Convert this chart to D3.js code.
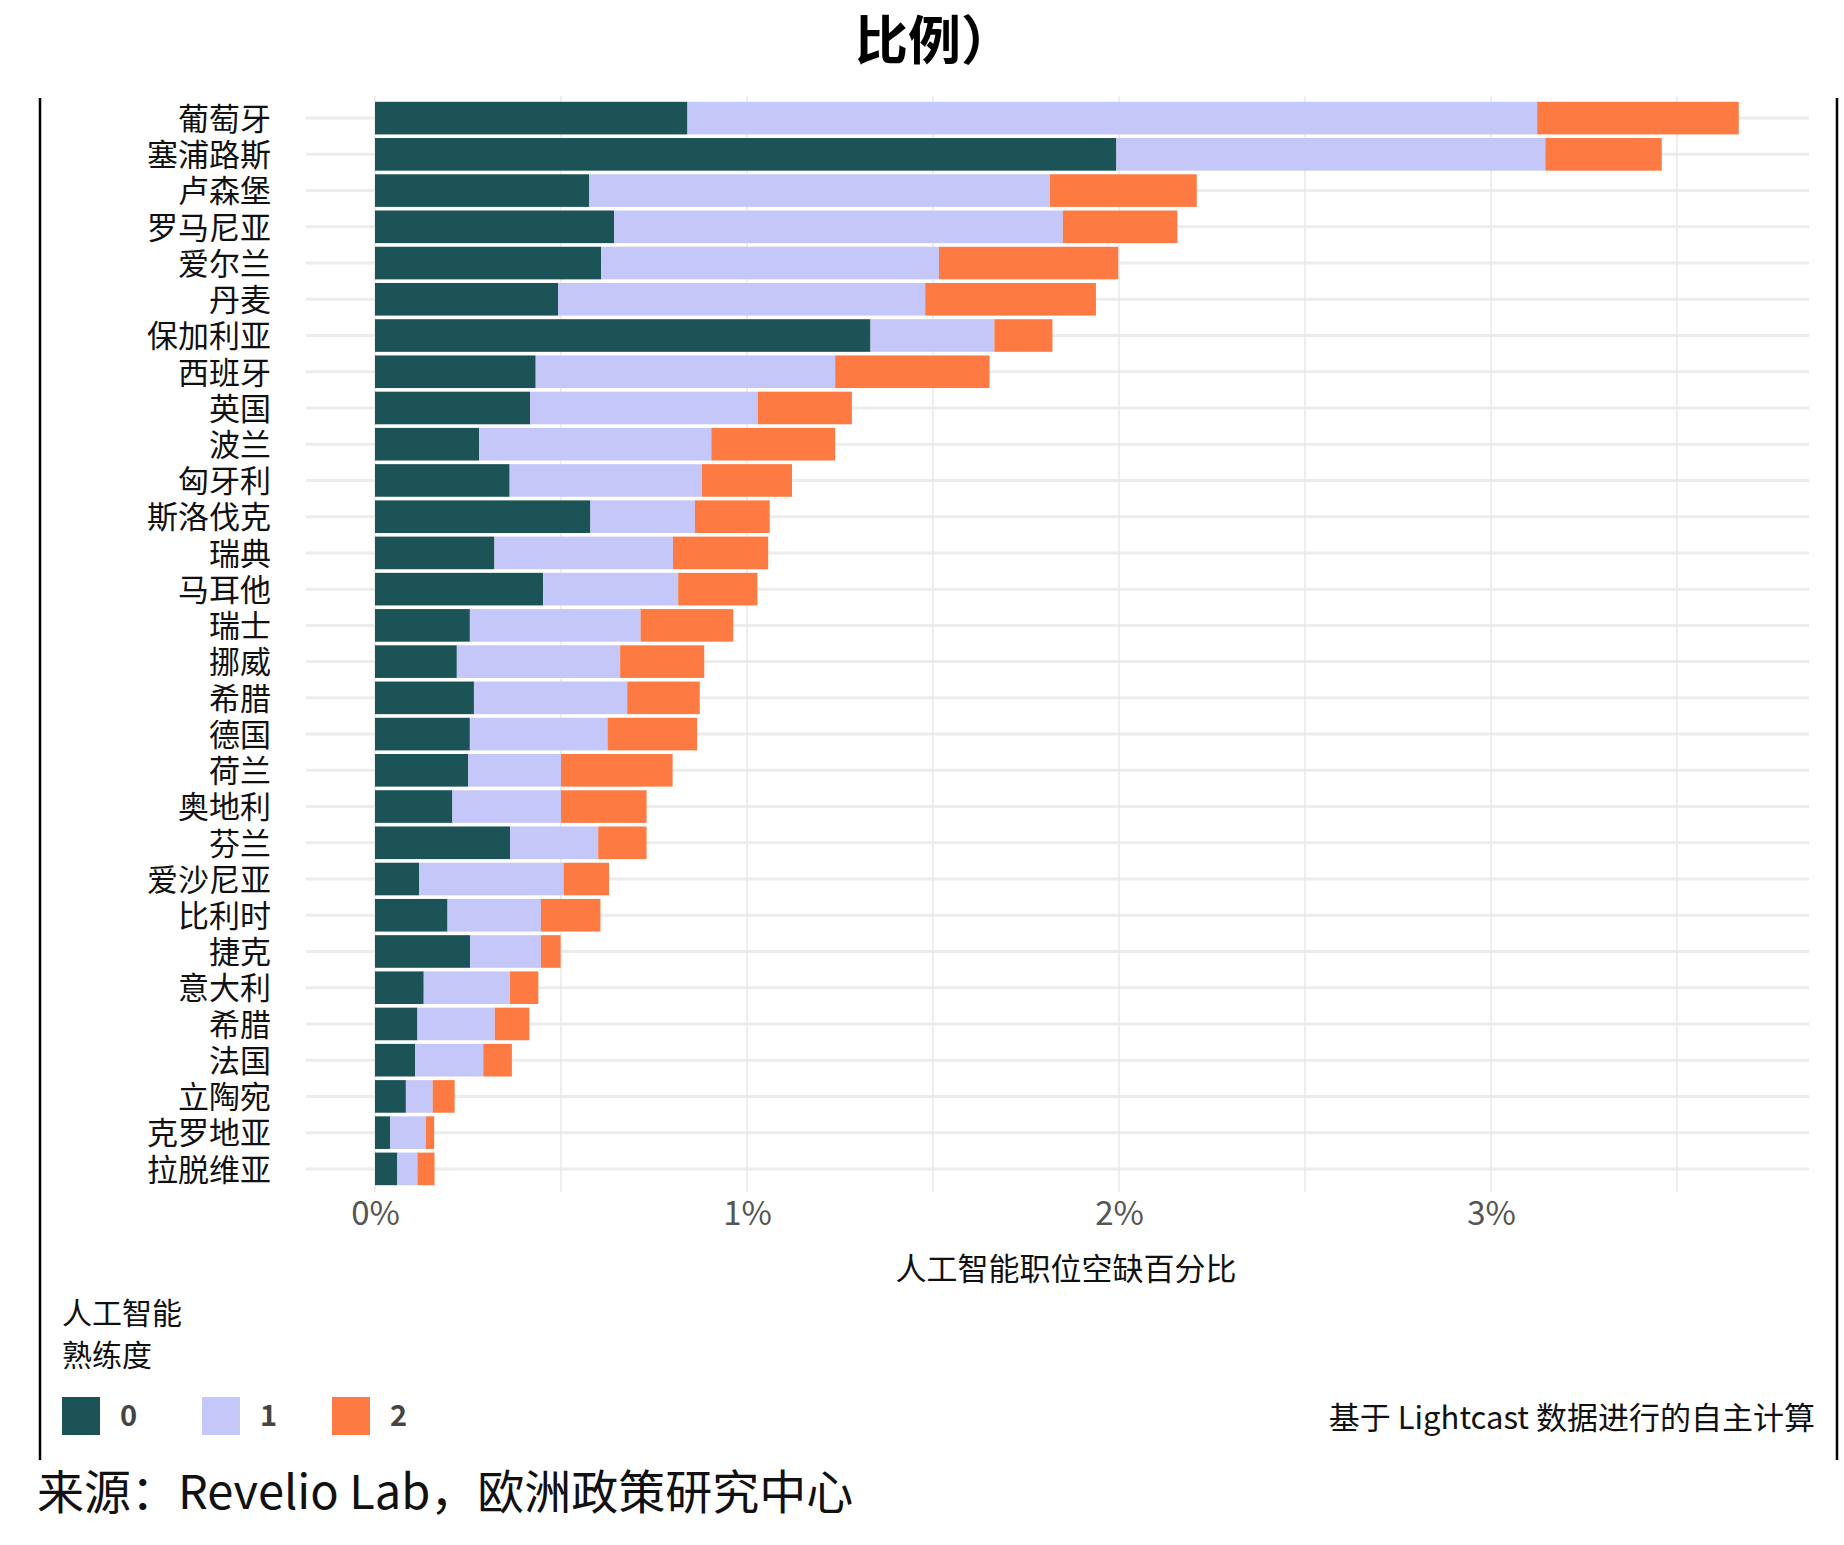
<!DOCTYPE html>
<html>
<head>
<meta charset="utf-8">
<script src="https://cdn.jsdelivr.net/npm/d3@7/dist/d3.min.js"></script>
<style>
  body { margin: 0; background: #fff; }
  svg text { font-family: 'Noto Sans CJK SC', sans-serif; }
</style>
</head>
<body>
<div id="chart"></div>
<script>
// values, in percent of job postings
const countries = ['葡萄牙', '塞浦路斯', '卢森堡', '罗马尼亚', '爱尔兰', '丹麦', '保加利亚', '西班牙',
  '英国', '波兰', '匈牙利', '斯洛伐克', '瑞典', '马耳他', '瑞士', '挪威', '希腊', '德国', '荷兰',
  '奥地利', '芬兰', '爱沙尼亚', '比利时', '捷克', '意大利', '希腊', '法国', '立陶宛', '克罗地亚', '拉脱维亚']
const level0 = [0.840, 1.993, 0.576, 0.643, 0.608, 0.492, 1.332, 0.432, 0.417, 0.280, 0.362, 0.579,
  0.321, 0.452, 0.255, 0.220, 0.266, 0.255, 0.250, 0.208, 0.363, 0.119, 0.195, 0.256, 0.131, 0.114,
  0.108, 0.083, 0.041, 0.060]
const level1 = [2.284, 1.153, 1.238, 1.206, 0.908, 0.987, 0.333, 0.805, 0.612, 0.624, 0.517, 0.281,
  0.480, 0.363, 0.459, 0.439, 0.412, 0.370, 0.250, 0.292, 0.237, 0.388, 0.251, 0.190, 0.232, 0.208,
  0.183, 0.072, 0.096, 0.054]
const level2 = [0.542, 0.313, 0.395, 0.308, 0.482, 0.459, 0.156, 0.415, 0.253, 0.333, 0.242, 0.201,
  0.256, 0.213, 0.249, 0.226, 0.195, 0.241, 0.300, 0.230, 0.130, 0.122, 0.160, 0.053, 0.076, 0.093,
  0.077, 0.059, 0.022, 0.046]
const levels = ['0', '1', '2']
const colors = ['#1b5356', '#c4c7f8', '#fd7b42']
const xTicks = [0, 1, 2, 3]
const xMinorTicks = [0.5, 1.5, 2.5, 3.5]

const width = 1844
const height = 1545
const panel = { left: 306, right: 1809, top: 96, bottom: 1192 }

const svg = d3
  .select('#chart')
  .append('svg')
  .attr('width', width)
  .attr('height', height)

svg.append('rect').attr('width', width).attr('height', height).attr('fill', '#fff')

const rows = countries.map((c, i) => ({ i: i, name: c, l0: level0[i], l1: level1[i], l2: level2[i] }))

const xPositionScale = d3
  .scaleLinear()
  .domain([0, 3])
  .range([375, 375 + 3 * 372])
const yPositionScale = d3
  .scaleBand()
  .domain(rows.map(d => d.i))
  .range([100, 1187])
  .paddingInner(0.1)
  .paddingOuter(0.05)
const colorScale = d3.scaleOrdinal().domain(['l0', 'l1', 'l2']).range(colors)

// grid
const grid = svg.append('g').attr('class', 'grid')
grid
  .selectAll('.h-grid')
  .data(rows)
  .enter()
  .append('line')
  .attr('class', 'h-grid')
  .attr('x1', panel.left)
  .attr('x2', panel.right)
  .attr('y1', d => yPositionScale(d.i) + yPositionScale.bandwidth() / 2)
  .attr('y2', d => yPositionScale(d.i) + yPositionScale.bandwidth() / 2)
  .attr('stroke', '#ececec')
  .attr('stroke-width', 3)
grid
  .selectAll('.v-grid')
  .data(xTicks.concat(xMinorTicks))
  .enter()
  .append('line')
  .attr('class', 'v-grid')
  .attr('x1', d => xPositionScale(d))
  .attr('x2', d => xPositionScale(d))
  .attr('y1', panel.top)
  .attr('y2', panel.bottom)
  .attr('stroke', '#e9e9e9')
  .attr('stroke-width', 1.5)

// stacked bars
const stacked = d3.stack().keys(['l0', 'l1', 'l2'])(rows)
svg
  .append('g')
  .selectAll('g')
  .data(stacked)
  .enter()
  .append('g')
  .attr('fill', d => colorScale(d.key))
  .selectAll('rect')
  .data(d => d)
  .enter()
  .append('rect')
  .attr('x', d => xPositionScale(d[0]))
  .attr('width', d => xPositionScale(d[1]) - xPositionScale(d[0]))
  .attr('y', d => yPositionScale(d.data.i))
  .attr('height', yPositionScale.bandwidth())

// axes
const yAxis = d3
  .axisLeft(yPositionScale)
  .tickSize(0)
  .tickPadding(8)
  .tickFormat(i => countries[i])
svg
  .append('g')
  .attr('class', 'axis y-axis')
  .attr('transform', 'translate(279,0)')
  .call(yAxis)
  .call(g => g.select('.domain').remove())
  .selectAll('text')
  .attr('dy', '0.38em')
  .attr('font-size', 31)
  .attr('fill', '#111')
  .attr('font-family', "'Noto Sans CJK SC', sans-serif")

const xAxis = d3
  .axisBottom(xPositionScale)
  .tickValues(xTicks)
  .tickSize(0)
  .tickPadding(10)
  .tickFormat(d => d + '%')
svg
  .append('g')
  .attr('class', 'axis x-axis')
  .attr('transform', 'translate(0,' + panel.bottom + ')')
  .call(xAxis)
  .call(g => g.select('.domain').remove())
  .selectAll('text')
  .attr('font-size', 33)
  .attr('fill', '#555')
  .attr('font-family', 'Roboto, sans-serif')

svg
  .append('text')
  .attr('x', 1066)
  .attr('y', 1280)
  .attr('text-anchor', 'middle')
  .attr('font-size', 31)
  .attr('fill', '#111')
  .text('人工智能职位空缺百分比')

// title (only the tail of it is in view)
svg
  .append('text')
  .attr('x', 855)
  .attr('y', 60)
  .attr('font-size', 53)
  .attr('font-weight', 'bold')
  .attr('fill', '#000')
  .text('比例）')

// frame lines
svg
  .selectAll('.frame')
  .data([40, 1837])
  .enter()
  .append('line')
  .attr('class', 'frame')
  .attr('x1', d => d)
  .attr('x2', d => d)
  .attr('y1', 98)
  .attr('y2', 1460)
  .attr('stroke', '#000')
  .attr('stroke-width', 2.5)

// legend
const legend = svg.append('g').attr('class', 'legend')
legend
  .append('text')
  .attr('x', 62)
  .attr('y', 1324)
  .attr('font-size', 30)
  .attr('fill', '#111')
  .text('人工智能')
legend
  .append('text')
  .attr('x', 62)
  .attr('y', 1366)
  .attr('font-size', 30)
  .attr('fill', '#111')
  .text('熟练度')
const legendX = [62, 202, 332]
const items = legend
  .selectAll('.item')
  .data(levels)
  .enter()
  .append('g')
  .attr('class', 'item')
  .attr('transform', (d, i) => 'translate(' + legendX[i] + ',1397)')
items
  .append('rect')
  .attr('width', 38)
  .attr('height', 38)
  .attr('fill', (d, i) => colors[i])
items
  .append('text')
  .attr('x', 58)
  .attr('y', 19)
  .attr('dy', '0.35em')
  .attr('font-size', 29)
  .attr('font-weight', 'bold')
  .attr('font-family', 'Roboto, sans-serif')
  .attr('fill', '#444')
  .text(d => d)

svg
  .append('text')
  .attr('x', 1815)
  .attr('y', 1429)
  .attr('text-anchor', 'end')
  .attr('font-size', 31)
  .attr('fill', '#111')
  .attr('font-family', "'Liberation Serif', 'Noto Sans CJK SC', serif")
  .text('基于 Lightcast 数据进行的自主计算')

svg
  .append('text')
  .attr('x', 37)
  .attr('y', 1509)
  .attr('font-size', 47)
  .attr('fill', '#111')
  .attr('font-family', "'Liberation Serif', 'Noto Sans CJK SC', serif")
  .text('来源：Revelio Lab，欧洲政策研究中心')
</script>
</body>
</html>
